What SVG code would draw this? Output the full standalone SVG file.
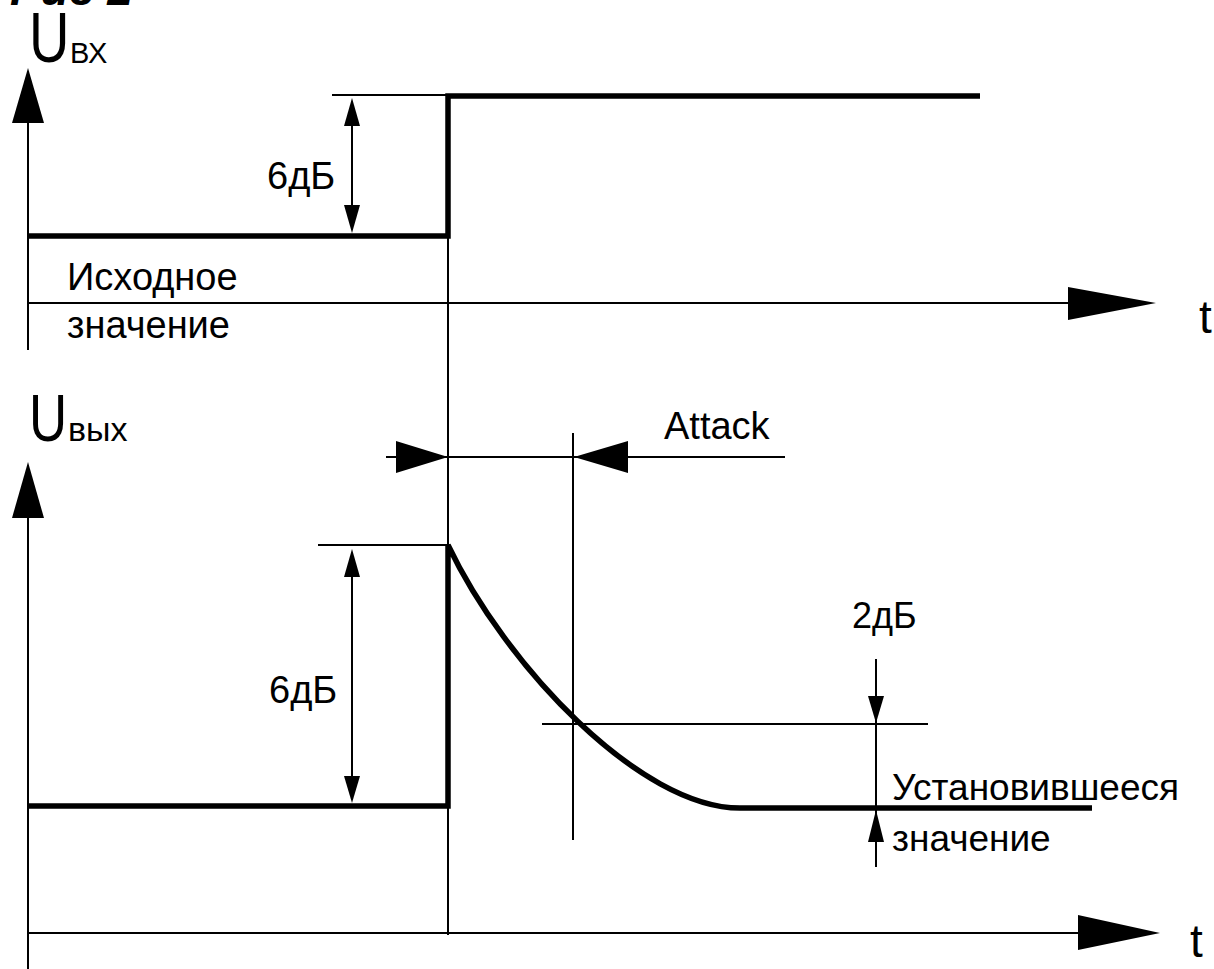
<svg xmlns="http://www.w3.org/2000/svg" width="1214" height="969" viewBox="0 0 1214 969">
<style>
text{font-family:"Liberation Sans",Arial,sans-serif;fill:#000}
.lbl{font-size:38px}
.thin{stroke:#000;stroke-width:2;fill:none}
.thick{stroke:#000;stroke-width:5.5;fill:none;stroke-linejoin:miter}
.ah{fill:#000}
</style>
<rect width="1214" height="969" fill="#fff"/>
<text x="10" y="5" style="font-size:46px;font-weight:bold;font-style:italic">Рис 2</text>

<g id="top-chart">
  <g id="top-axes">
    <line class="thin" x1="28" y1="350" x2="28" y2="110"/>
    <polygon class="ah" points="28,68 12,123 44,123"/>
    <line class="thin" x1="28" y1="303" x2="1080" y2="303"/>
    <polygon class="ah" points="1156,303 1068,287 1068,320"/>
    <text x="1199" y="333" style="font-size:46px">t</text>
    <text transform="translate(29,62) scale(0.8,1)" style="font-size:70px">U</text>
    <text x="70" y="63" style="font-size:29px">ВХ</text>
  </g>
  <g id="top-signal">
    <polyline class="thick" points="28,236 448,236 448,96 980,96"/>
  </g>
  <g id="top-dim">
    <line class="thin" x1="332" y1="95" x2="448" y2="95"/>
    <line class="thin" x1="352" y1="115" x2="352" y2="220"/>
    <polygon class="ah" points="352,98 344,126 360,126"/>
    <polygon class="ah" points="352,233 344,205 360,205"/>
    <text class="lbl" x="267" y="189">6дБ</text>
  </g>
  <text class="lbl" x="67" y="290">Исходное</text>
  <text class="lbl" x="67" y="338">значение</text>
</g>

<g id="connectors">
  <line class="thin" x1="448" y1="236" x2="448" y2="935"/>
</g>

<g id="bottom-chart">
  <g id="bottom-axes">
    <line class="thin" x1="28" y1="969" x2="28" y2="505"/>
    <polygon class="ah" points="28,462 12,518 44,518"/>
    <line class="thin" x1="28" y1="933" x2="1090" y2="933"/>
    <polygon class="ah" points="1160,933 1078,915 1078,950"/>
    <text x="1190" y="957" style="font-size:46px">t</text>
    <text transform="translate(29,441) scale(0.8,1)" style="font-size:66px">U</text>
    <text x="68" y="441" style="font-size:34px">вых</text>
  </g>
  <g id="bottom-signal">
    <path class="thick" d="M28,806 L448,806 L448,545 C505,665 640,808 740,808 L1092,808"/>
  </g>
  <g id="bottom-dim">
    <line class="thin" x1="318" y1="545" x2="448" y2="545"/>
    <line class="thin" x1="352" y1="565" x2="352" y2="785"/>
    <polygon class="ah" points="352,549 344,577 360,577"/>
    <polygon class="ah" points="352,803 344,776 360,776"/>
    <text class="lbl" x="269" y="703">6дБ</text>
  </g>
  <g id="attack">
    <line class="thin" x1="386" y1="457" x2="785" y2="457"/>
    <polygon class="ah" points="448,457 396,441 396,473"/>
    <polygon class="ah" points="574,457 628,441 628,473"/>
    <line class="thin" x1="573" y1="433" x2="573" y2="840"/>
    <text class="lbl" x="664" y="439">Attack</text>
  </g>
  <g id="steady">
    <line class="thin" x1="542" y1="724" x2="928" y2="724"/>
    <line class="thin" x1="876" y1="659" x2="876" y2="867"/>
    <polygon class="ah" points="876,723 868,696 884,696"/>
    <polygon class="ah" points="876,810 868,842 884,842"/>
    <text style="font-size:36px" x="852" y="628">2дБ</text>
    <text style="font-size:37px" x="892" y="800">Установившееся</text>
    <text style="font-size:37px" x="892" y="851">значение</text>
  </g>
</g>
</svg>
